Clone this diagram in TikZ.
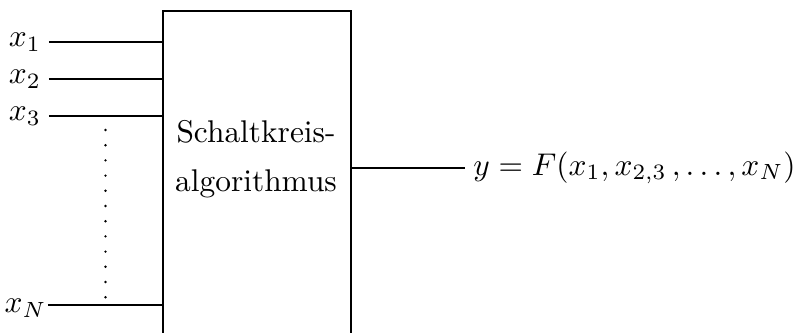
\documentclass[tikz,border=0pt]{standalone}
\begin{document}
\begin{tikzpicture}[x=0.3185pt,y=-0.3185pt,
  lbl/.style={anchor=east,inner sep=2.4pt},
  boxtext/.style={anchor=base,inner sep=0pt},
  wire/.style={line width=0.42pt}]
\useasboundingbox (0,0) rectangle (796,333);
\node[draw,line width=0.42pt,minimum width=59.88pt,minimum height=106.4pt,inner sep=0pt] (box) at (257,178) {};
\node[boxtext] (t1) at (256,143) {Schaltkreis-};
\node[boxtext] (t2) at (256,192) {algorithmus};
\coordinate (i1) at (49,42);
\coordinate (i2) at (49,79);
\coordinate (i3) at (49,116);
\coordinate (iN) at (48,305);
\node[lbl] (l1) at (i1) {$x_1$};
\node[lbl] (l2) at (i2) {$x_2$};
\node[lbl] (l3) at (i3) {$x_3$};
\node[lbl,inner sep=0.3pt,yshift=-1pt] (lN) at (iN) {$x_N$};
\draw[wire] (i1) -- (i1 -| box.west);
\draw[wire] (i2) -- (i2 -| box.west);
\draw[wire] (i3) -- (i3 -| box.west);
\draw[wire] (iN) -- (iN -| box.west);
\foreach \k in {0,...,11}{\fill (105.5,130+15.2*\k) circle (0.42pt);}
\coordinate (o) at (465,168);
\draw[wire] (o -| box.east) -- (o);
\node[anchor=west,inner sep=2.5pt] (out) at (o) {$y = F(x_1, x_{2,3}\,, \dots, x_N)$};
\end{tikzpicture}
\end{document}
